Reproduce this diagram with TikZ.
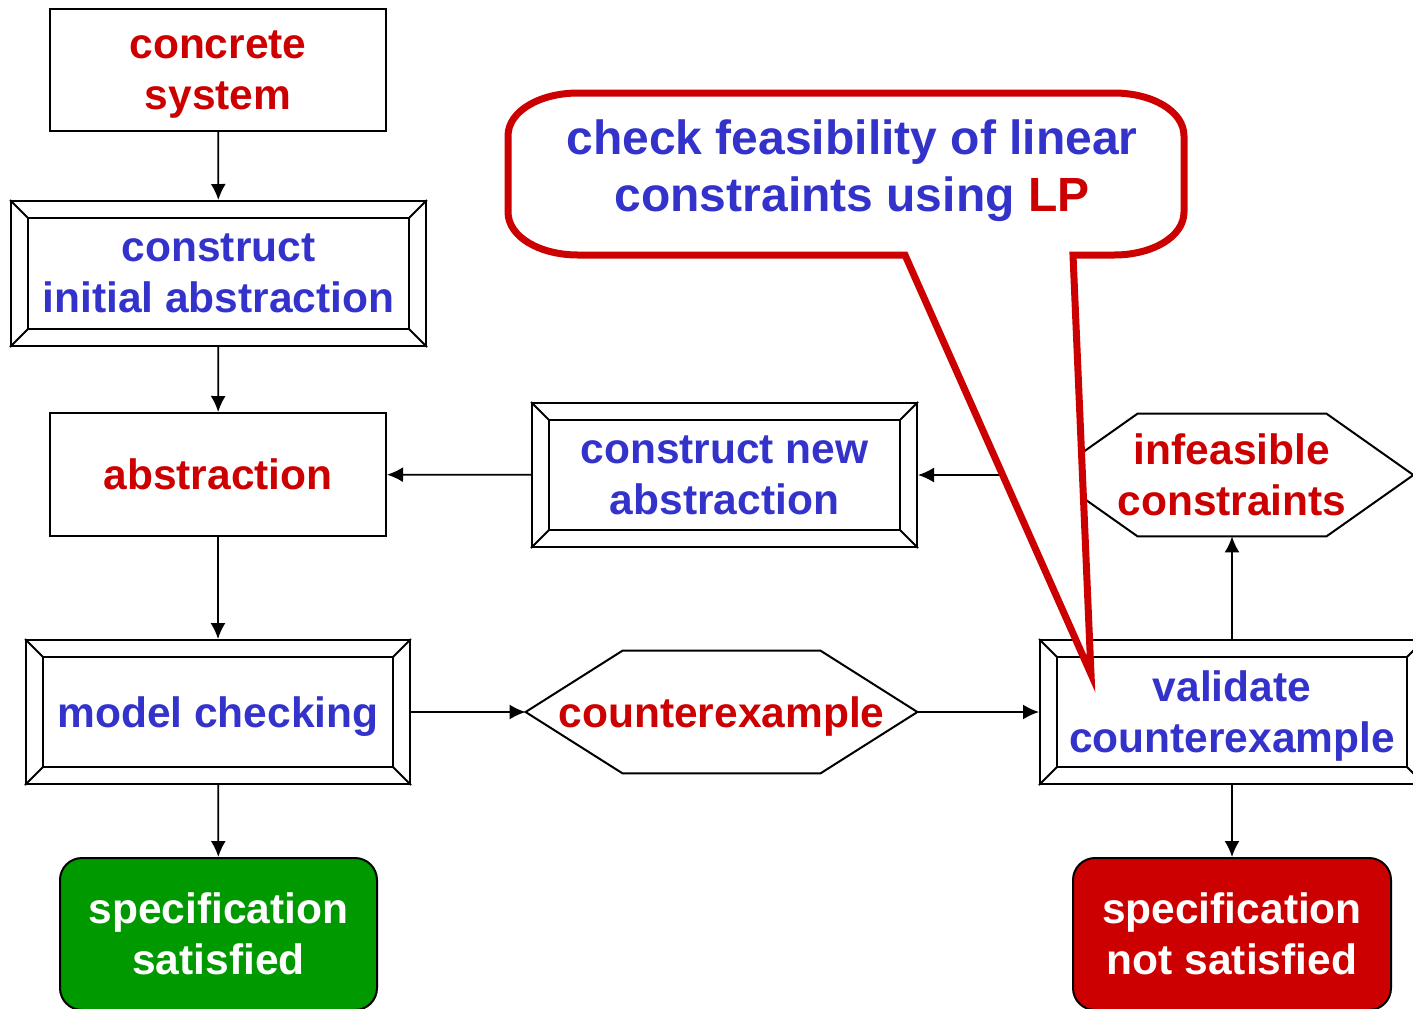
\documentclass[tikz,border=0pt]{standalone}
\usepackage{fontspec}
\setmainfont{Liberation Sans}
\usetikzlibrary{arrows.meta}

\definecolor{txtblue}{RGB}{51,51,204}
\definecolor{txtred}{RGB}{204,0,0}
\definecolor{okgreen}{RGB}{0,153,0}

\tikzset{
  boxline/.style={line width=1pt},
  lbl/.style={align=center, font=\fontsize{21.25}{25.5}\selectfont\bfseries, inner sep=0pt, text depth=-2pt},
  plainbox/.style={lbl, draw, boxline, minimum width=168pt, minimum height=61pt},
  bevelbox/.style={lbl, draw, boxline, minimum width=192pt, minimum height=72pt},
  hexbox/.style={lbl, minimum height=61pt},
  endbox/.style={lbl, draw, boxline, rounded corners=11pt, text=white, minimum width=159pt, minimum height=76pt},
  arr/.style={-{Latex[length=8pt,width=7.5pt]}, line width=0.9pt},
  callout/.style={draw=txtred, fill=white, line width=3.5pt, line join=miter},
}

% frame with slanted corners
\newcommand{\bevel}[1]{%
  \draw[boxline] ([shift={(9pt,-9pt)}]#1.north west) rectangle ([shift={(-9pt,9pt)}]#1.south east);
  \draw[boxline] (#1.north west) -- ++(9pt,-9pt) (#1.north east) -- ++(-9pt,-9pt)
    (#1.south west) -- ++(9pt,9pt) (#1.south east) -- ++(-9pt,9pt);
}
% six sided outline round a node
\newcommand{\hexa}[2]{%
  \draw[boxline] (#1.west) -- ([xshift=#2]#1.north west) -- ([xshift=-#2]#1.north east)
    -- (#1.east) -- ([xshift=-#2]#1.south east) -- ([xshift=#2]#1.south west) -- cycle;
}

\begin{document}
\begin{tikzpicture}[x=0.5pt, y=-0.5pt]
\clip (0,0) rectangle (1413,1008);

% left column
\node[plainbox, text=txtred] (conc) at (218,70) {concrete\\system};
\node[bevelbox, text=txtblue, minimum width=207.5pt, minimum height=72.5pt] (init) at (218.5,273.5) {construct\\initial abstraction};
\bevel{init}
\node[plainbox, text=txtred, minimum height=61.5pt] (abst) at (218,474.5) {abstraction};
\node[bevelbox, text=txtblue] (mc) at (218,712) {model checking};
\bevel{mc}
\node[endbox, fill=okgreen, minimum width=158.5pt] (sat) at (218.5,934) {specification\\satisfied};

% middle and right
\node[bevelbox, text=txtblue, minimum width=192.5pt] (newabs) at (724.5,475) {construct new\\abstraction};
\bevel{newabs}
\node[hexbox, text=txtred, minimum width=195.5pt] (cex) at (721.5,712) {counterexample};
\hexa{cex}{48.5pt}
\node[hexbox, text=txtred, minimum width=181pt] (infeas) at (1232,475) {infeasible\\constraints};
\hexa{infeas}{43.5pt}
\node[bevelbox, text=txtblue] (valid) at (1232,712) {validate\\counterexample};
\bevel{valid}
\node[endbox, fill=txtred] (unsat) at (1232,934) {specification\\not satisfied};

\draw[arr] (conc) -- (init);
\draw[arr] (init) -- (abst);
\draw[arr] (abst) -- (mc);
\draw[arr] (mc) -- (sat);
\draw[arr] (mc) -- (cex);
\draw[arr] (cex) -- (valid);
\draw[arr] (valid) -- (infeas);
\draw[arr] (valid) -- (unsat);
\draw[arr] (infeas) -- (newabs);
\draw[arr] (newabs) -- (abst);

% speech bubble
\coordinate (tip) at (1091,674);
\draw[callout] (tip) -- (905,255) -- (578,255) .. controls (540,255) and (508,237) .. (508,212)
  -- (508,136) .. controls (508,111) and (540,93) .. (578,93)
  -- (1114,93) .. controls (1152,93) and (1184,111) .. (1184,136)
  -- (1184,212) .. controls (1184,237) and (1152,255) .. (1114,255)
  -- (1073,255) -- cycle;
\node[lbl, font=\fontsize{24}{28.5}\selectfont\bfseries, text=txtblue] (lp) at (852,166)
  {check feasibility of linear\\constraints using \textcolor{txtred}{LP}};
\end{tikzpicture}
\end{document}
